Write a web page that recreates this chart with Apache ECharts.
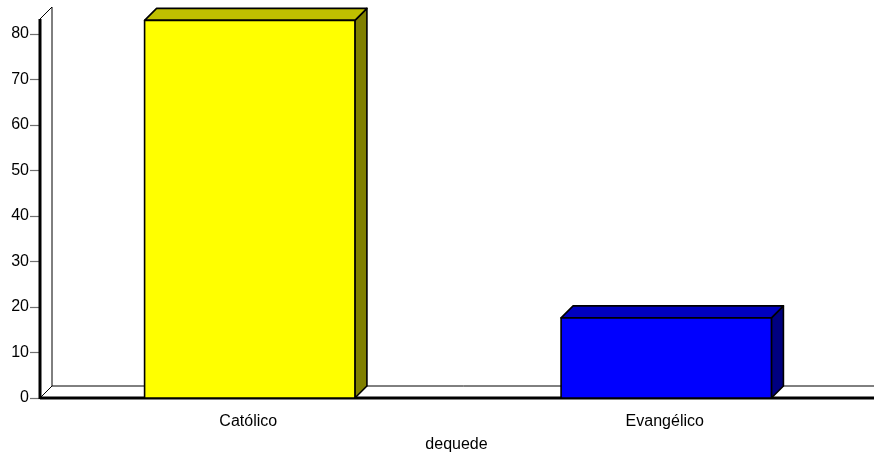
<!DOCTYPE html>
<html>
<head>
<meta charset="utf-8">
<script src="https://cdn.jsdelivr.net/npm/echarts@6/dist/echarts.min.js"></script>
<style>
  html, body { margin: 0; padding: 0; background: #fff; }
  #chart { width: 874px; height: 453px; }
</style>
</head>
<body>
<div id="chart"></div>
<script>
// values
const categories = ['Católico', 'Evangélico'];
const counts = [83.0, 17.6];
const yTicks = [0, 10, 20, 30, 40, 50, 60, 70, 80];
const axisTitle = 'dequede';

// face colours: front, top, side
const faces = [
  ['#ffff00', '#c0c000', '#808000'],
  ['#0000ff', '#0000c0', '#000080'],
];
const DEPTH = 12;
const FONT = '"Liberation Sans", Arial, sans-serif';

const chart = echarts.init(document.getElementById('chart'));

// left wall + floor, drawn from the grid rect
function renderWalls(params, api) {
  const r = params.coordSys;
  const x0 = r.x, top = r.y, bot = r.y + r.height, right = r.x + r.width + 20;
  const thin = { stroke: '#000', lineWidth: 1, fill: '#fff' };
  return {
    type: 'group',
    children: [
      { type: 'polygon', shape: { points: [[x0, top], [x0 + DEPTH, top - DEPTH], [x0 + DEPTH, bot - DEPTH], [x0, bot]] }, style: thin },
      { type: 'polygon', shape: { points: [[x0, bot], [x0 + DEPTH, bot - DEPTH], [right, bot - DEPTH], [right, bot]] }, style: thin },
      { type: 'line', shape: { x1: x0, y1: top, x2: x0, y2: bot + 1 }, style: { stroke: '#000', lineWidth: 3 } },
      { type: 'line', shape: { x1: x0, y1: bot, x2: right, y2: bot }, style: { stroke: '#000', lineWidth: 3 } },
    ],
  };
}

function renderBar(params, api) {
  const i = api.value(0);
  const c = api.coord([i, api.value(1)]);
  const b = api.coord([i, 0]);
  const w = api.size([1, 0])[0] * 0.505;
  const x0 = c[0] - w / 2 + 1.5;
  const yT = c[1], yB = b[1];
  const col = faces[params.dataIndex];
  const st = (fill) => ({ fill, stroke: '#000', lineWidth: 1.6, lineJoin: 'round' });
  return {
    type: 'group',
    children: [
      { type: 'polygon', shape: { points: [[x0 + w, yT], [x0 + w + DEPTH, yT - DEPTH], [x0 + w + DEPTH, yB - DEPTH], [x0 + w, yB]] }, style: st(col[2]) },
      { type: 'polygon', shape: { points: [[x0, yT], [x0 + DEPTH, yT - DEPTH], [x0 + w + DEPTH, yT - DEPTH], [x0 + w, yT]] }, style: st(col[1]) },
      { type: 'rect', shape: { x: x0, y: yT, width: w, height: yB - yT }, style: st(col[0]) },
    ],
  };
}

chart.setOption({
  animation: false,
  grid: { left: 40, right: 1, top: 19, bottom: 55, outerBoundsMode: 'none', containLabel: false },
  xAxis: {
    type: 'category',
    data: categories,
    name: axisTitle,
    nameLocation: 'middle',
    nameGap: 39,
    nameTextStyle: { fontFamily: FONT, fontSize: 16, color: '#000' },
    axisLine: { show: false },
    axisTick: { alignWithLabel: true, length: 7, lineStyle: { color: '#808080' } },
    axisLabel: { margin: 16, fontFamily: FONT, fontSize: 16, color: '#000' },
  },
  yAxis: {
    type: 'value',
    min: 0,
    max: 83.3,
    interval: 10,
    axisLine: { show: false },
    splitLine: { show: false },
    axisTick: { show: true, length: 10, customValues: yTicks, lineStyle: { color: '#707070', width: 1.2 } },
    axisLabel: { margin: 11, customValues: yTicks, fontFamily: FONT, fontSize: 16, color: '#000' },
  },
  series: [
    { type: 'custom', z: 1, renderItem: renderWalls, data: [[0]], silent: true },
    { type: 'custom', z: 3, renderItem: renderBar, data: counts.map((v, i) => [i, v]) },
  ],
});
</script>
</body>
</html>
